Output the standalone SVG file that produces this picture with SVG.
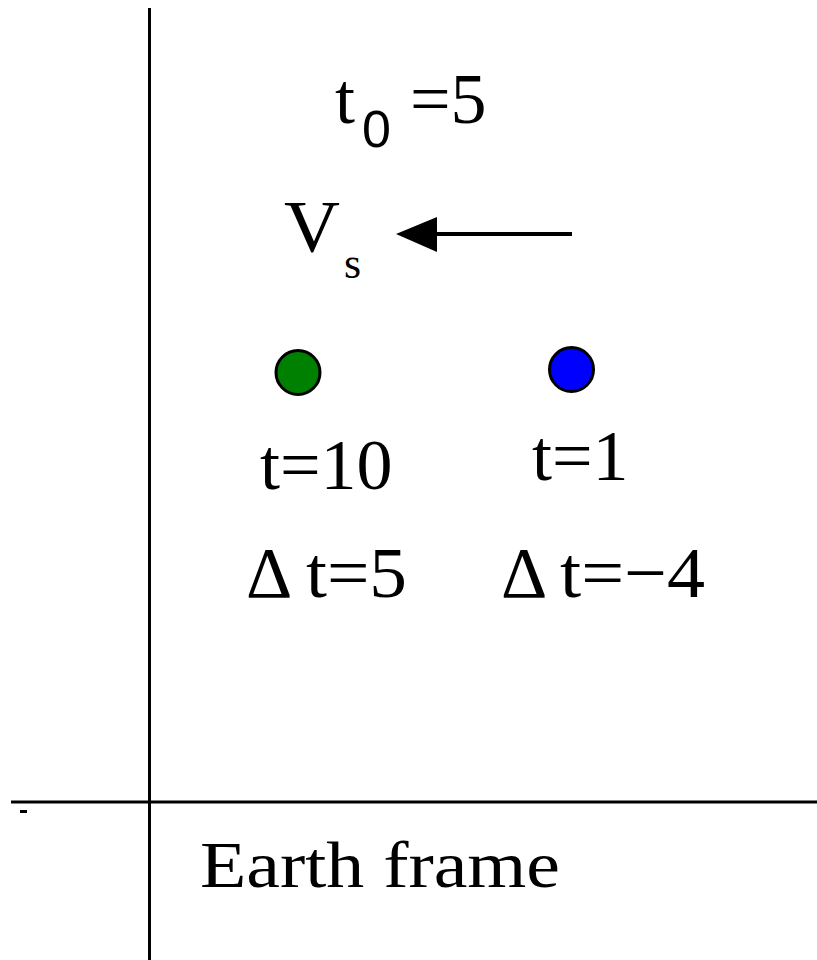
<svg xmlns="http://www.w3.org/2000/svg" width="817" height="960" viewBox="0 0 817 960">
<style>
text{font-family:"Liberation Serif","Times New Roman",serif;fill:#000}
.big{font-size:72px}
.ax{stroke:#000;stroke-width:3;fill:none}
</style>
<rect width="817" height="960" fill="#fff"/>
<g id="connectors">
<line class="ax" x1="149.5" y1="8" x2="149.5" y2="960"/>
<line class="ax" x1="11" y1="802" x2="817" y2="802" stroke-width="4"/>
<line x1="20" y1="811.5" x2="27" y2="811.5" stroke="#000" stroke-width="3"/>
<line x1="572" y1="234" x2="437" y2="234" stroke="#000" stroke-width="4"/>
<path d="M396,234 L437,217 L437,252 Z" fill="#000"/>
</g>
<g id="t0label">
<text class="big" x="335" y="123">t</text>
<text x="362" y="147" style="font-size:52px;font-family:'Liberation Sans',Arial,sans-serif">0</text>
<text class="big" x="410" y="123">=5</text>
</g>
<g id="vs">
<text x="284" y="252" style="font-size:74px" textLength="56" lengthAdjust="spacingAndGlyphs">V</text>
<text x="344" y="278" style="font-size:44px">s</text>
</g>
<g id="green">
<circle cx="298" cy="372.5" r="22" fill="#008000" stroke="#000" stroke-width="3"/>
<text class="big" x="260" y="489">t=10</text>
<text class="big" x="246" y="597">Δ</text>
<text class="big" x="306" y="597" textLength="101" lengthAdjust="spacingAndGlyphs">t=5</text>
</g>
<g id="blue">
<circle cx="571.5" cy="369.5" r="22" fill="#0000ff" stroke="#000" stroke-width="3"/>
<text class="big" x="532" y="480">t=1</text>
<text class="big" x="501" y="597">Δ</text>
<text class="big" x="560" y="597" textLength="145" lengthAdjust="spacingAndGlyphs">t=−4</text>
</g>
<g id="earth">
<text x="200" y="887" style="font-size:66px" textLength="360" lengthAdjust="spacingAndGlyphs">Earth frame</text>
</g>
</svg>
